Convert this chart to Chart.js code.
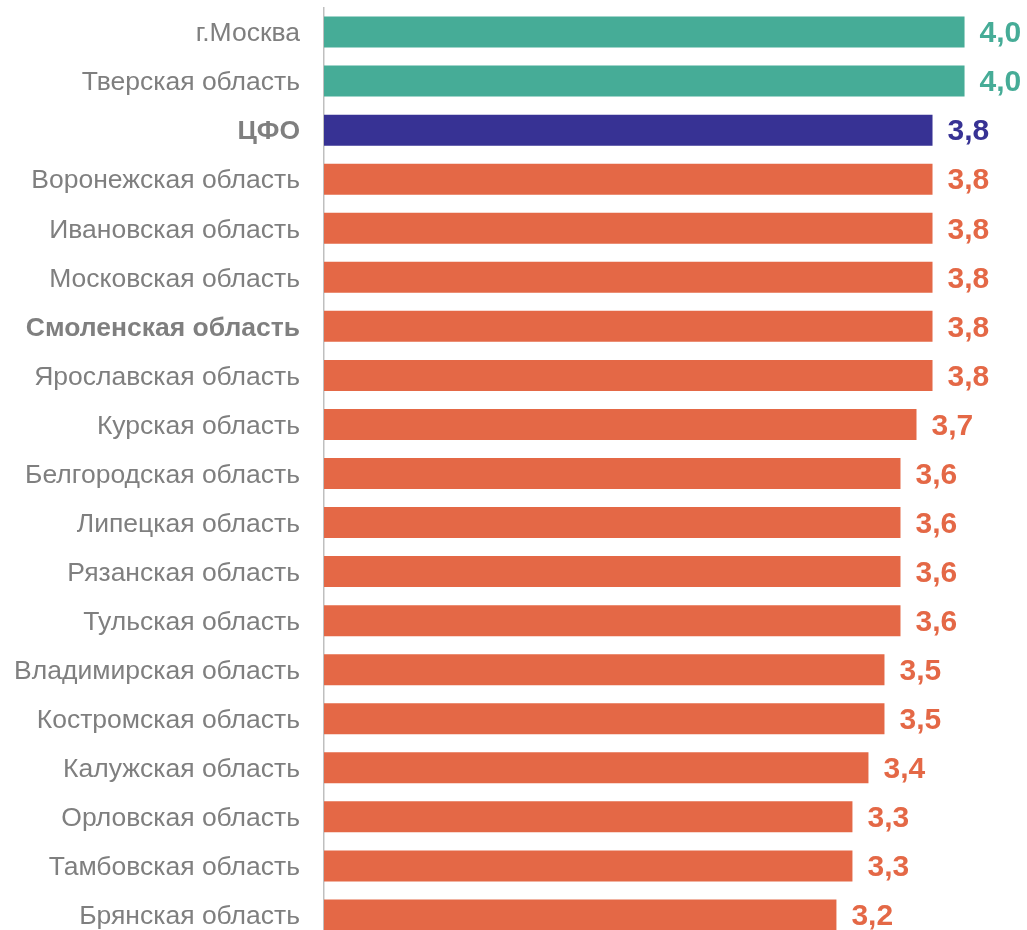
<!DOCTYPE html>
<html>
<head>
<meta charset="utf-8">
<script src="https://cdn.jsdelivr.net/npm/chart.js@4/dist/chart.umd.min.js"></script>
<style>
  html, body { margin: 0; padding: 0; background: #fff; overflow: hidden; }
  #wrap { width: 1027px; height: 940px; position: relative; }
</style>
</head>
<body>
<div id="wrap"><canvas id="graph"></canvas></div>
<script>
const regions = [
    "г.Москва",
    "Тверская область",
    "ЦФО",
    "Воронежская область",
    "Ивановская область",
    "Московская область",
    "Смоленская область",
    "Ярославская область",
    "Курская область",
    "Белгородская область",
    "Липецкая область",
    "Рязанская область",
    "Тульская область",
    "Владимирская область",
    "Костромская область",
    "Калужская область",
    "Орловская область",
    "Тамбовская область",
    "Брянская область"
];
const scores = [4.0, 4.0, 3.8, 3.8, 3.8, 3.8, 3.8, 3.8, 3.7, 3.6, 3.6, 3.6, 3.6, 3.5, 3.5, 3.4, 3.3, 3.3, 3.2];
const boldRegions = ["ЦФО", "Смоленская область"];

const GREEN = "#46AC97";
const NAVY = "#373294";
const ORANGE = "#E46846";
const FONT = "'Liberation Sans', Arial, sans-serif";

function barColor(i) {
    if (i < 2) return GREEN;
    if (regions[i] === "ЦФО") return NAVY;
    return ORANGE;
}
const colors = regions.map((r, i) => barColor(i));

// values written to the right of each bar
const valueLabels = {
    id: "valueLabels",
    afterDatasetsDraw(chart) {
        const c = chart.ctx;
        const meta = chart.getDatasetMeta(0);
        c.save();
        c.font = "bold 30px " + FONT;
        c.textAlign = "left";
        c.textBaseline = "middle";
        meta.data.forEach((bar, i) => {
            c.fillStyle = colors[i];
            c.fillText(scores[i].toFixed(1).replace(".", ","), bar.x + 15, bar.y + 2);
        });
        c.restore();
    }
};

const ctx = document.getElementById("graph").getContext("2d");
let chart = new Chart(ctx, {
    type: "bar",
    data: {
        labels: regions,
        datasets: [{
            data: scores,
            backgroundColor: colors,
            borderWidth: 0,
            barPercentage: 0.632,
            categoryPercentage: 1
        }]
    },
    options: {
        indexAxis: "y",
        responsive: true,
        maintainAspectRatio: false,
        animation: false,
        layout: { padding: { top: 7.5, bottom: 0.5, left: 0, right: 0 } },
        plugins: {
            legend: { display: false },
            tooltip: { enabled: false }
        },
        scales: {
            x: {
                display: false,
                min: 0,
                max: 4.39
            },
            y: {
                afterFit(scale) {
                    scale.width = 324;
                    scale.paddingTop = 0;
                    scale.paddingBottom = 0;
                },
                grid: { display: true, drawOnChartArea: false, drawTicks: false },
                border: { display: true, color: "#BFBFBF", width: 1.5 },
                ticks: {
                    padding: 24,
                    labelOffset: 2,
                    color: "#7F7F7F",
                    font: (c) => ({
                        family: FONT,
                        size: 26.5,
                        weight: boldRegions.includes(regions[c.index]) ? "bold" : "normal"
                    })
                }
            }
        }
    },
    plugins: [valueLabels]
});
</script>
</body>
</html>
